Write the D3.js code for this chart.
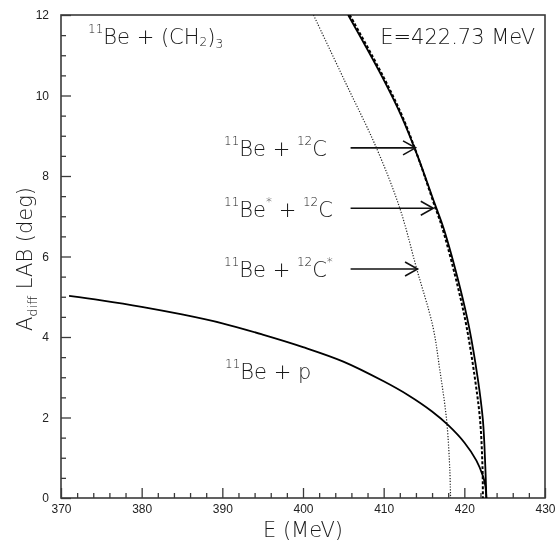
<!DOCTYPE html>
<html><head><meta charset="utf-8">
<script src="https://cdn.jsdelivr.net/npm/d3@7"></script>
<style>body{margin:0;background:#fff} svg{display:block;filter:grayscale(100%)}</style>
</head><body>
<script>
// ---- data ----
const xTickValues = [370, 380, 390, 400, 410, 420, 430];
const xTickLabels = ["370", "380", "390", "400", "410", "420", "430"];
const yTickValues = [0, 2, 4, 6, 8, 10, 12];
const yTickLabels = ["0", "2", "4", "6", "8", "10", "12"];

// 11Be + p (solid, shallow)
const protonE = [371.0, 375.0, 380.0, 385.0, 390.0, 395.0, 400.0, 405.0, 410.0, 413.0, 416.0, 418.0, 420.0, 421.5, 422.3, 422.6, 422.73];
const protonA = [5.02, 4.91, 4.75, 4.56, 4.34, 4.06, 3.75, 3.39, 2.90, 2.56, 2.15, 1.81, 1.38, 0.93, 0.55, 0.31, 0.00];

// 11Be + 12C (solid, steep)
const c12E = [405.6, 409.8, 412.2, 414.2, 416.35, 417.45, 419.5, 420.6, 421.65, 422.3, 422.6, 422.73];
const c12A = [12.0, 10.47, 9.49, 8.50, 7.30, 6.69, 5.20, 4.23, 2.99, 1.94, 0.78, 0.0];

// 11Be* + 12C (dashed)
const beStarE = [405.8, 409.95, 412.3, 414.2, 416.25, 417.3, 419.25, 420.3, 421.3, 421.95, 422.25, 422.3];
const beStarA = [12.0, 10.47, 9.49, 8.50, 7.30, 6.69, 5.20, 4.23, 2.99, 1.94, 0.78, 0.0];

// 11Be + 12C* (dotted)
const cStarE = [401.3, 405.2, 409.1, 412.0, 414.1, 416.1, 416.96, 417.8, 418.2, 418.29];
const cStarA = [12.0, 10.35, 8.70, 7.20, 5.69, 4.26, 3.18, 1.94, 0.70, 0.0];

// annotation arrows (data units)
const arrowA = [8.70, 7.20, 5.69];
const arrowFromE = [405.9, 405.9, 405.9];
const arrowToE = [413.95, 416.15, 414.2];

// ---- drawing ----
const W = 555, H = 545;
const x = d3.scaleLinear().domain([370, 430]).range([61, 545]);
const y = d3.scaleLinear().domain([0, 12]).range([498, 15]);

const svg = d3.select("body").append("svg").attr("width", W).attr("height", H)
  .style("background", "#fff");

const FONT = "'DejaVu Sans', sans-serif";
const TICKFONT = "'Liberation Sans', Arial, sans-serif";
const AX = "#3a3a3a";

// minor ticks
const xMinor = d3.range(370, 430.01, 2).filter(v => v % 10 !== 0);
const yMinor = d3.range(0, 12.01, 0.5).filter(v => v % 2 !== 0);

const gxMinor = svg.append("g").attr("transform", "translate(0,498)")
  .call(d3.axisBottom(x).tickValues(xMinor).tickSizeInner(-5).tickSizeOuter(0).tickFormat(""));
const gyMinor = svg.append("g").attr("transform", "translate(61,0)")
  .call(d3.axisLeft(y).tickValues(yMinor).tickSizeInner(-5).tickSizeOuter(0).tickFormat(""));

const gx = svg.append("g").attr("transform", "translate(0,498)")
  .call(d3.axisBottom(x).tickValues(xTickValues).tickSizeInner(-10).tickSizeOuter(0)
    .tickPadding(6).tickFormat((d, i) => xTickLabels[i]));
const gy = svg.append("g").attr("transform", "translate(61,0)")
  .call(d3.axisLeft(y).tickValues(yTickValues).tickSizeInner(-10).tickSizeOuter(0)
    .tickPadding(12).tickFormat((d, i) => yTickLabels[i]));

[gxMinor, gyMinor, gx, gy].forEach(g => {
  g.select(".domain").remove();
  g.selectAll(".tick line").attr("stroke", AX).attr("stroke-width", 1.3);
  g.selectAll("text").attr("font-family", TICKFONT).attr("font-size", 12).attr("fill", "#222");
});

// frame
svg.append("rect").attr("x", x(370)).attr("y", y(12))
  .attr("width", x(430) - x(370)).attr("height", y(0) - y(12))
  .attr("fill", "none").attr("stroke", AX).attr("stroke-width", 1.6);

// curves
svg.append("clipPath").attr("id", "clip").append("rect")
  .attr("x", x(370)).attr("y", y(12)).attr("width", x(430) - x(370)).attr("height", y(0) - y(12));

const line = d3.line().x(d => x(d[0])).y(d => y(d[1])).curve(d3.curveCatmullRom.alpha(0.5));
const zipE = (E, A) => E.map((e, i) => [e, A[i]]);

const curves = svg.append("g").attr("clip-path", "url(#clip)");
curves.append("path").datum(zipE(cStarE, cStarA)).attr("d", line)
  .attr("fill", "none").attr("stroke", "#222").attr("stroke-width", 1.2).attr("stroke-dasharray", "1.2,1.6");
curves.append("path").datum(zipE(beStarE, beStarA)).attr("d", line)
  .attr("fill", "none").attr("stroke", "#000").attr("stroke-width", 2).attr("stroke-dasharray", "3,2");
curves.append("path").datum(zipE(c12E, c12A)).attr("d", line)
  .attr("fill", "none").attr("stroke", "#000").attr("stroke-width", 1.8);
curves.append("path").datum(zipE(protonE, protonA)).attr("d", line)
  .attr("fill", "none").attr("stroke", "#000").attr("stroke-width", 1.8);

// arrows
arrowA.forEach((a, i) => {
  const x1 = x(arrowFromE[i]), x2 = x(arrowToE[i]), yy = y(a);
  svg.append("line").attr("x1", x1).attr("x2", x2).attr("y1", yy).attr("y2", yy)
    .attr("stroke", "#111").attr("stroke-width", 1.6);
  svg.append("path").attr("d", `M${x2 - 12.5},${yy - 7}L${x2},${yy}L${x2 - 12.5},${yy + 7}`)
    .attr("fill", "none").attr("stroke", "#111").attr("stroke-width", 1.6);
});

// rich text helper: parts = [[text, shift, size]]
function rich(px, py, parts, anchor) {
  const t = svg.append("text").attr("x", px).attr("y", py)
    .attr("font-family", FONT).attr("font-size", 21).attr("fill", "#1a1a1a")
    .attr("font-weight", 200).attr("text-anchor", anchor || "start");
  let cur = 0;
  parts.forEach(p => {
    const shift = p[1] || 0;
    t.append("tspan").attr("dy", shift - cur).attr("font-size", p[2] || 21).text(p[0]);
    cur = shift;
  });
  return t;
}
const SUP = -11;
rich(88, 43.5, [["11", SUP, 12], ["Be + (CH"], ["2", 2, 12], [")"], ["3", 4, 12]]);
rich(535, 43.5, [["E=422.73 MeV"]], "end");
rich(224, 156, [["11", SUP, 12], ["Be + "], ["12", SUP, 12], ["C"]]);
rich(224, 216.7, [["11", SUP, 12], ["Be"], ["*", SUP, 12], [" + "], ["12", SUP, 12], ["C"]]);
rich(224, 276.7, [["11", SUP, 12], ["Be + "], ["12", SUP, 12], ["C"], ["*", SUP, 12]]);
rich(225, 378.5, [["11", SUP, 12], ["Be + p"]]);

// axis titles
rich(303, 537, [["E (MeV)"]], "middle");
const yt = rich(0, 0, [["A"], ["diff", 5, 13], [" LAB (deg)", 0, 21]], "middle");
yt.attr("transform", "translate(32,259) rotate(-90)");
</script>
</body></html>
